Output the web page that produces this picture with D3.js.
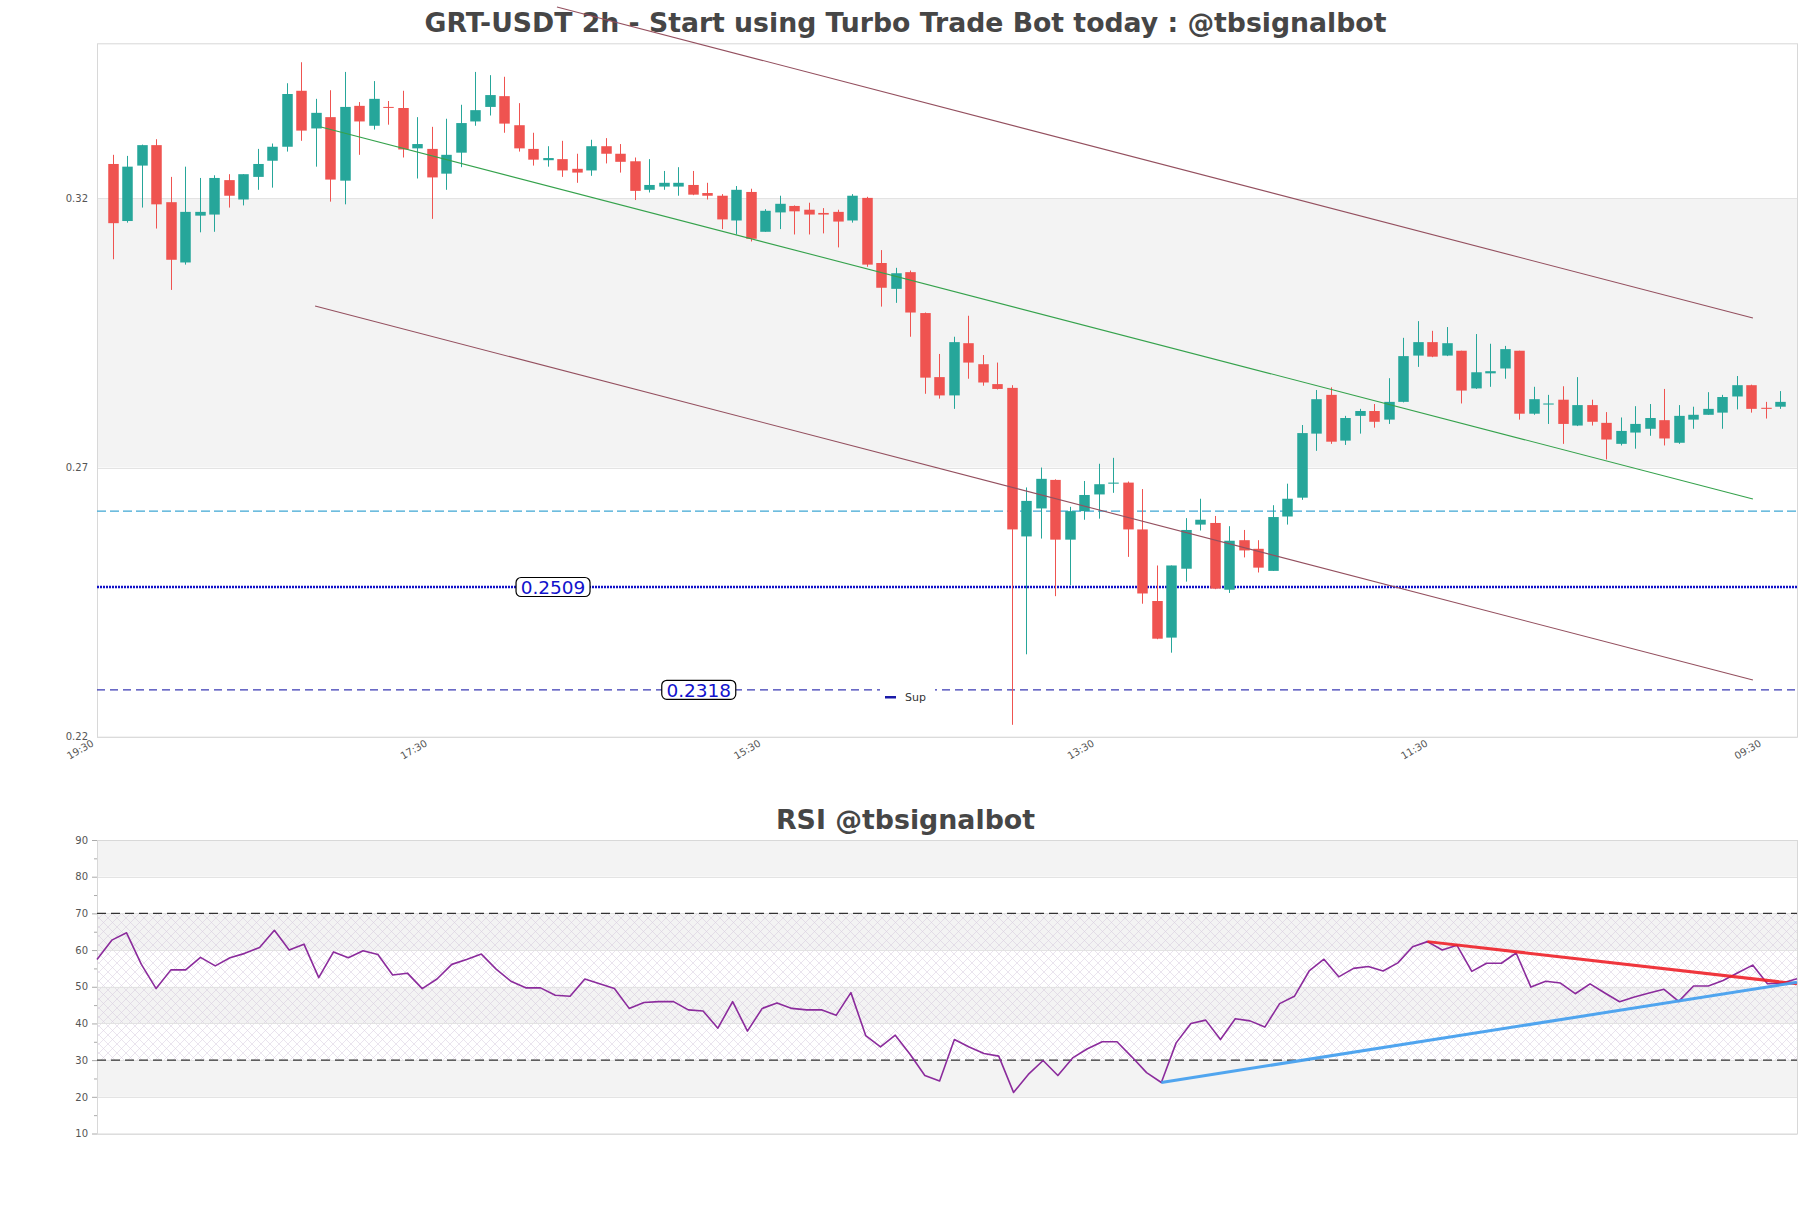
<!DOCTYPE html>
<html><head><meta charset="utf-8">
<script src="https://cdn.jsdelivr.net/npm/d3@7"></script>
<style>
html,body{margin:0;padding:0;background:#fff;}
svg{display:block;font-family:"DejaVu Sans",sans-serif;}
</style></head><body>
<svg id="chart" width="1811" height="1208"></svg>
<script>
// ---------------- DATA ----------------
const mainTitle = "GRT-USDT 2h - Start using Turbo Trade Bot today : @tbsignalbot";
const rsiTitle = "RSI @tbsignalbot";
const timeTickIdx = [0, 23, 46, 69, 92, 115];
const timeTickLabels = ["19:30", "17:30", "15:30", "13:30", "11:30", "09:30"];
const priceTicks = [0.2231, 0.2731, 0.3231];
const priceTickLabels = ["0.22", "0.27", "0.32"];
const priceDomain = [0.22309, 0.35192];

const openP = [0.3295,0.3189,0.3292,0.3330,0.3224,0.3112,0.3199,0.3201,0.3265,0.3229,
0.3271,0.3301,0.3327,0.3431,0.3361,0.3382,0.3264,0.3403,0.3366,0.3401,
0.3399,0.3324,0.3323,0.3277,0.3316,0.3374,0.3401,0.3421,0.3367,0.3323,
0.3302,0.3304,0.3286,0.3283,0.3328,0.3314,0.3300,0.3247,0.3253,0.3253,
0.3256,0.3241,0.3236,0.3190,0.3243,0.3169,0.3205,0.3217,0.3210,0.3204,
0.3206,0.3190,0.3232,0.3111,0.3063,0.3094,0.3018,0.2899,0.2865,0.2962,
0.2923,0.2886,0.2879,0.2603,0.2655,0.2708,0.2597,0.2650,0.2681,0.2701,
0.2703,0.2616,0.2483,0.2415,0.2543,0.2625,0.2628,0.2504,0.2596,0.2580,
0.2539,0.2640,0.2675,0.2794,0.2866,0.2781,0.2827,0.2836,0.2820,0.2853,
0.2939,0.2964,0.2939,0.2948,0.2878,0.2906,0.2915,0.2948,0.2831,0.2848,
0.2857,0.2809,0.2847,0.2814,0.2775,0.2796,0.2803,0.2819,0.2777,0.2820,
0.2829,0.2833,0.2863,0.2884,0.2842,0.2844];
const highP = [0.3312,0.3310,0.3331,0.3341,0.3271,0.3290,0.3269,0.3274,0.3276,0.3276,
0.3323,0.3333,0.3445,0.3484,0.3416,0.3432,0.3466,0.3410,0.3449,0.3412,
0.3431,0.3382,0.3364,0.3379,0.3405,0.3466,0.3460,0.3457,0.3408,0.3353,
0.3328,0.3338,0.3314,0.3340,0.3343,0.3332,0.3307,0.3304,0.3282,0.3289,
0.3282,0.3260,0.3239,0.3254,0.3249,0.3211,0.3236,0.3218,0.3223,0.3213,
0.3210,0.3239,0.3234,0.3135,0.3102,0.3097,0.3019,0.2942,0.2974,0.3013,
0.2940,0.2926,0.2884,0.2694,0.2731,0.2709,0.2658,0.2706,0.2738,0.2749,
0.2705,0.2691,0.2549,0.2549,0.2637,0.2673,0.2641,0.2622,0.2615,0.2596,
0.2661,0.2701,0.2810,0.2875,0.2880,0.2827,0.2840,0.2849,0.2897,0.2972,
0.3003,0.2985,0.2992,0.2948,0.2979,0.2961,0.2957,0.2948,0.2881,0.2866,
0.2882,0.2899,0.2857,0.2834,0.2824,0.2845,0.2849,0.2877,0.2847,0.2844,
0.2871,0.2866,0.2901,0.2885,0.2853,0.2873];
const lowP = [0.3118,0.3186,0.3214,0.3175,0.3061,0.3108,0.3168,0.3169,0.3214,0.3218,
0.3247,0.3251,0.3318,0.3338,0.3290,0.3225,0.3220,0.3312,0.3359,0.3368,
0.3307,0.3268,0.3193,0.3247,0.3289,0.3366,0.3385,0.3353,0.3318,0.3292,
0.3290,0.3271,0.3260,0.3273,0.3296,0.3279,0.3228,0.3242,0.3247,0.3236,
0.3237,0.3229,0.3174,0.3164,0.3151,0.3169,0.3174,0.3164,0.3164,0.3166,
0.3140,0.3186,0.3104,0.3030,0.3037,0.2974,0.2868,0.2859,0.2840,0.2896,
0.2883,0.2876,0.2253,0.2384,0.2599,0.2492,0.2512,0.2634,0.2636,0.2684,
0.2565,0.2478,0.2412,0.2387,0.2519,0.2614,0.2505,0.2498,0.2564,0.2536,
0.2539,0.2625,0.2671,0.2762,0.2775,0.2773,0.2794,0.2805,0.2812,0.2852,
0.2918,0.2936,0.2938,0.2850,0.2877,0.2881,0.2896,0.2820,0.2829,0.2812,
0.2775,0.2808,0.2809,0.2746,0.2772,0.2766,0.2790,0.2772,0.2775,0.2803,
0.2829,0.2803,0.2839,0.2833,0.2822,0.2840];
const closeP = [0.3185,0.3290,0.3330,0.3220,0.3117,0.3206,0.3206,0.3269,0.3236,0.3276,
0.3295,0.3327,0.3425,0.3357,0.3390,0.3266,0.3401,0.3374,0.3416,0.3400,
0.3322,0.3332,0.3270,0.3312,0.3371,0.3395,0.3423,0.3370,0.3324,0.3303,
0.3306,0.3283,0.3279,0.3328,0.3314,0.3299,0.3245,0.3256,0.3260,0.3260,
0.3238,0.3236,0.3192,0.3247,0.3156,0.3208,0.3221,0.3207,0.3201,0.3201,
0.3188,0.3236,0.3108,0.3065,0.3092,0.3019,0.2898,0.2865,0.2964,0.2926,
0.2889,0.2877,0.2616,0.2669,0.2710,0.2597,0.2650,0.2680,0.2700,0.2703,
0.2616,0.2497,0.2413,0.2549,0.2615,0.2634,0.2506,0.2595,0.2577,0.2545,
0.2639,0.2673,0.2795,0.2858,0.2779,0.2823,0.2836,0.2816,0.2853,0.2938,
0.2964,0.2937,0.2962,0.2874,0.2908,0.2910,0.2951,0.2831,0.2858,0.2850,
0.2812,0.2847,0.2816,0.2783,0.2799,0.2812,0.2823,0.2785,0.2827,0.2829,
0.2840,0.2862,0.2884,0.2840,0.2840,0.2853];

// horizontal price levels
const levelValues = [0.2650, 0.2509, 0.2318];
const levelNames = ["level", "0.2509", "0.2318"];
const levelLabelIdx = [null, 31.35, 41.4];

// channel lines [startIdx, startValue, endIdx, endValue]
const channelUpper = [31.62, 0.35867, 114.1, 0.30088];
const channelMid = [15.35, 0.33637, 114.1, 0.26725];
const channelLower = [14.94, 0.30311, 114.1, 0.23362];

const legendName = "Sup";

const rsiValues = [57.4,62.7,64.7,56.1,49.5,54.6,54.6,58.0,55.7,57.9,
59.1,60.7,65.4,60.0,61.6,52.5,59.5,57.9,59.8,58.8,
53.2,53.7,49.5,52.1,56.1,57.4,58.9,54.8,51.5,49.7,
49.7,47.7,47.4,52.1,50.8,49.5,44.1,45.7,45.95,45.95,
43.7,43.4,38.7,45.95,37.9,44.1,45.6,44.1,43.7,43.7,
42.2,48.4,36.7,33.6,36.8,31.6,25.8,24.3,35.6,33.6,
31.8,31.1,21.2,26.1,29.9,25.8,30.6,33.1,35.0,35.0,
30.9,26.6,23.9,34.7,40.0,40.9,35.6,41.3,40.7,39.0,
45.4,47.4,54.3,57.5,52.7,55.0,55.5,54.3,56.5,60.9,
62.3,60.0,61.3,54.2,56.4,56.4,59.2,49.9,51.5,51.0,
48.1,50.8,48.3,45.9,47.2,48.3,49.3,46.0,50.2,50.2,
51.7,53.8,55.9,50.8,51.0,52.2];
const rsiTicks = [10,20,30,40,50,60,70,80,90];
const rsiMinorTicks = [15,25,35,45,55,65,75,85];
const rsiLevels = [70, 30];
const rsiResistance = [90, 62.3, 115, 50.8];
const rsiSupport = [72, 23.9, 115, 51.2];

// ---------------- LAYOUT / STYLE ----------------
const W = 1811, H = 1208;
const plotL = 97, plotR = 1797;
const mainTop = 43.3, mainBot = 736.7;
const rsiTop = 840, rsiBot = 1133.5;
const UP = "#26a69a", DOWN = "#ef5350";
const BAND = "#f3f3f3", GRID = "#e3e3e3", BORDER = "#d8d8d8";

const svg = d3.select("#chart");
const defs = svg.append("defs");

// hatch pattern for RSI 30-70 zone
const pat = defs.append("pattern").attr("id","hatch").attr("patternUnits","userSpaceOnUse")
  .attr("width",9).attr("height",9);
pat.append("path").attr("d","M0,0L9,9M9,0L0,9").attr("stroke","#cdbdd6").attr("stroke-width",0.6).attr("fill","none");

// ---------- scales ----------
const xC = d3.scaleLinear().domain([-0.1, 117.14]).range([plotL, plotR]);
const yP = d3.scaleLinear().domain(priceDomain).range([mainBot, mainTop]);
const xR = d3.scaleLinear().domain([0, rsiValues.length - 1]).range([plotL, plotR]);
const yR = d3.scaleLinear().domain([10, 90]).range([rsiBot, rsiTop]);

// ---------- MAIN PANEL ----------
const gMain = svg.append("g");
const pBounds = [priceDomain[0], ...priceTicks.slice(1), priceDomain[1]];
for (let i = 0; i < pBounds.length - 1; i++) {
  if (i % 2 === 1) {
    gMain.append("rect").attr("x", plotL).attr("width", plotR - plotL)
      .attr("y", yP(pBounds[i+1])).attr("height", yP(pBounds[i]) - yP(pBounds[i+1]))
      .attr("fill", BAND);
  }
}
gMain.selectAll("line.grid").data(priceTicks).join("line").attr("class","grid")
  .attr("x1", plotL).attr("x2", plotR)
  .attr("y1", d => Math.round(yP(d)) + 0.5).attr("y2", d => Math.round(yP(d)) + 0.5)
  .attr("stroke", GRID);
gMain.append("rect").attr("x", plotL + 0.5).attr("y", mainTop + 0.5)
  .attr("width", plotR - plotL).attr("height", mainBot - mainTop)
  .attr("fill","none").attr("stroke", BORDER);

const yAxis = d3.axisLeft(yP).tickValues(priceTicks).tickFormat((d,i) => priceTickLabels[i]).tickSize(0).tickPadding(9);
const gy = gMain.append("g").attr("transform", `translate(${plotL},0)`).call(yAxis);
gy.select(".domain").remove();
gy.selectAll("text").attr("font-size", 10).attr("fill", "#555").attr("font-family","DejaVu Sans");

const xAxis = d3.axisBottom(xC).tickValues(timeTickIdx).tickFormat((d,i) => timeTickLabels[i]).tickSize(0);
const gx = gMain.append("g").attr("transform", `translate(0,${mainBot})`).call(xAxis);
gx.select(".domain").remove();
gx.selectAll("text").attr("font-size", 10).attr("fill", "#555").attr("font-family","DejaVu Sans")
  .attr("text-anchor","end").attr("dy", null).attr("y", 0)
  .attr("transform", "translate(-6,6) rotate(-30)")
  .attr("dominant-baseline", "middle");

const levelStyles = [
  {stroke:"#3fa7d4", width:1.2, dash:"9,4"},
  {stroke:"#1010c8", width:2.5, dash:"2,1"},
  {stroke:"#3a3ab4", width:1.3, dash:"8,5"}
];
levelValues.forEach((v,i) => {
  const s = levelStyles[i];
  gMain.append("line").attr("x1", plotL).attr("x2", plotR)
    .attr("y1", yP(v)).attr("y2", yP(v))
    .attr("stroke", s.stroke).attr("stroke-width", s.width).attr("stroke-dasharray", s.dash);
});

const candles = openP.map((o,i) => ({k: i+1, o, h: highP[i], l: lowP[i], c: closeP[i]}));
const bodyW = 10.5;
const gC = gMain.append("g");
gC.selectAll("line.wick").data(candles).join("line").attr("class","wick")
  .attr("x1", d => Math.round(xC(d.k)) + 0.5).attr("x2", d => Math.round(xC(d.k)) + 0.5)
  .attr("y1", d => yP(d.h)).attr("y2", d => yP(d.l))
  .attr("stroke", d => d.c >= d.o ? UP : DOWN).attr("stroke-width", 1);
gC.selectAll("rect.body").data(candles).join("rect").attr("class","body")
  .attr("x", d => Math.round(xC(d.k)) + 0.5 - bodyW/2).attr("width", bodyW)
  .attr("y", d => yP(Math.max(d.o, d.c)))
  .attr("height", d => Math.max(1, Math.abs(yP(d.o) - yP(d.c))))
  .attr("fill", d => d.c >= d.o ? UP : DOWN);

levelValues.forEach((v,i) => {
  if (levelLabelIdx[i] === null) return;
  const cx = xC(levelLabelIdx[i]), cy = yP(v);
  const g = gMain.append("g");
  g.append("rect").attr("x", cx - 37).attr("y", cy - 9.5).attr("width", 74).attr("height", 19)
    .attr("rx", 5).attr("fill", "#fff").attr("stroke", "#000").attr("stroke-width", 1.2);
  g.append("text").attr("x", cx).attr("y", cy + 0.5).attr("text-anchor","middle")
    .attr("dominant-baseline","central").attr("font-size", 18.5).attr("fill", "#1212cc")
    .text(levelNames[i]);
});

const lg = gMain.append("g");
lg.append("rect").attr("x", 880).attr("y", 681).attr("width", 55).attr("height", 30).attr("fill", "#fff");
lg.append("rect").attr("x", 885).attr("y", 696).attr("width", 11).attr("height", 2.5).attr("fill", "#1a1aa8");
lg.append("text").attr("x", 905).attr("y", 701).attr("font-size", 11).attr("fill", "#333").text(legendName);

svg.append("text").attr("x", W/2).attr("y", 31.5).attr("text-anchor","middle")
  .attr("font-size", 26.7).attr("font-weight","bold").attr("fill","#464646").text(mainTitle);

const lineGen = (a, xs, ys) => `M${xs(a[0])},${ys(a[1])}L${xs(a[2])},${ys(a[3])}`;
svg.append("path").attr("d", lineGen(channelUpper, xC, yP)).attr("stroke","#94505f").attr("stroke-width",1.1).attr("fill","none");
svg.append("path").attr("d", lineGen(channelLower, xC, yP)).attr("stroke","#94505f").attr("stroke-width",1.1).attr("fill","none");
svg.append("path").attr("d", lineGen(channelMid, xC, yP)).attr("stroke","#35a24c").attr("stroke-width",1.1).attr("fill","none");

// ---------- RSI PANEL ----------
const gR = svg.append("g");
for (let i = 0; i < rsiTicks.length - 1; i++) {
  if (i % 2 === 1) {
    gR.append("rect").attr("x", plotL).attr("width", plotR - plotL)
      .attr("y", yR(rsiTicks[i+1])).attr("height", yR(rsiTicks[i]) - yR(rsiTicks[i+1]))
      .attr("fill", BAND);
  }
}
gR.append("rect").attr("x", plotL).attr("width", plotR - plotL)
  .attr("y", yR(70)).attr("height", yR(30) - yR(70)).attr("fill", "url(#hatch)").attr("opacity", 0.7);
gR.selectAll("line.grid").data(rsiTicks).join("line").attr("class","grid")
  .attr("x1", plotL).attr("x2", plotR)
  .attr("y1", d => Math.round(yR(d)) + 0.5).attr("y2", d => Math.round(yR(d)) + 0.5)
  .attr("stroke", GRID);
gR.append("rect").attr("x", plotL + 0.5).attr("y", rsiTop + 0.5)
  .attr("width", plotR - plotL).attr("height", rsiBot - rsiTop)
  .attr("fill","none").attr("stroke", BORDER);

const rAxis = d3.axisLeft(yR).tickValues(rsiTicks).tickSize(5).tickPadding(4);
const gra = gR.append("g").attr("transform", `translate(${plotL},0)`).call(rAxis);
gra.select(".domain").remove();
gra.selectAll("line").attr("stroke", "#aaa");
gra.selectAll("text").attr("font-size", 10).attr("fill", "#555").attr("font-family","DejaVu Sans");
const rMinor = d3.axisLeft(yR).tickValues(rsiMinorTicks).tickSize(3).tickFormat("");
const grm = gR.append("g").attr("transform", `translate(${plotL},0)`).call(rMinor);
grm.select(".domain").remove();
grm.selectAll("line").attr("stroke", "#aaa");

rsiLevels.forEach(v => {
  gR.append("line").attr("x1", plotL).attr("x2", plotR).attr("y1", yR(v)).attr("y2", yR(v))
    .attr("stroke", "#333").attr("stroke-width", 1.1).attr("stroke-dasharray", "9,5");
});

const rsiLine = d3.line().x((d,i) => xR(i)).y(d => yR(d));
gR.append("path").datum(rsiValues).attr("d", rsiLine).attr("fill","none")
  .attr("stroke", "#8b2b9c").attr("stroke-width", 1.6).attr("stroke-linejoin","round");

gR.append("path").attr("d", lineGen(rsiResistance, xR, yR)).attr("stroke","#ee2028").attr("stroke-width",3).attr("fill","none").attr("opacity",0.9);
gR.append("path").attr("d", lineGen(rsiSupport, xR, yR)).attr("stroke","#47a0ee").attr("stroke-width",3).attr("fill","none").attr("opacity",0.95);

svg.append("text").attr("x", W/2).attr("y", 829).attr("text-anchor","middle")
  .attr("font-size", 26.8).attr("font-weight","bold").attr("fill","#464646").text(rsiTitle);
</script>
</body></html>
